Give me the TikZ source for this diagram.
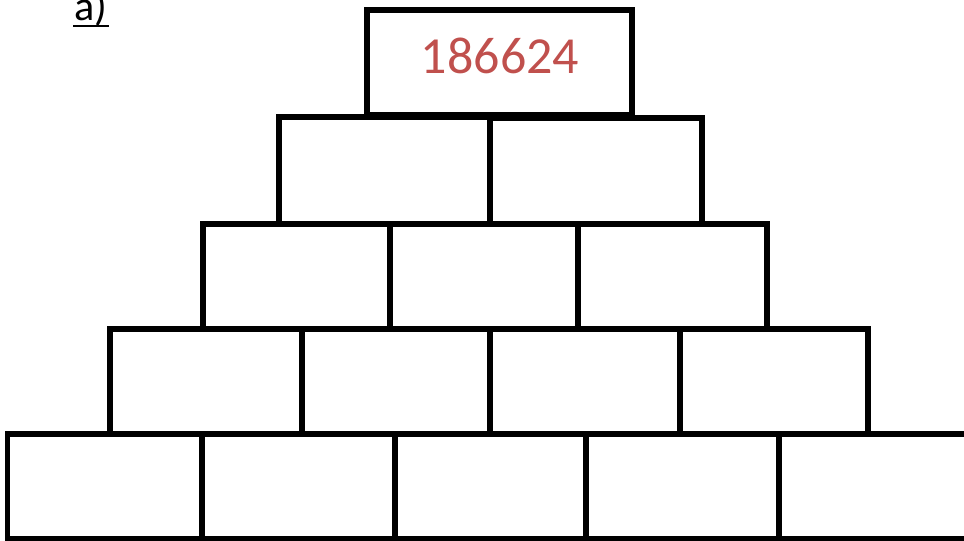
\documentclass[tikz,border=0pt]{standalone}
\usepackage{fontspec}
\setmainfont{Carlito}
\usepackage{tikz}
\usepackage{xcolor}
\definecolor{numred}{RGB}{192,80,77}
\tikzset{brick/.style={draw=black,line width=3.8pt,line join=miter}}

\begin{document}
\begin{tikzpicture}[line cap=rect]
\useasboundingbox (0,0) rectangle (24.1,13.5);
\begin{scope}
\clip (0,0) rectangle (24.1,13.5);
% bottom row
\draw[brick] (0.19,0.025) rectangle (5.05,2.65);
\draw[brick] (5.05,0.025) rectangle (9.875,2.65);
\draw[brick] (9.875,0.025) rectangle (14.65,2.65);
\draw[brick] (14.65,0.025) rectangle (19.475,2.65);
\draw[brick] (19.475,0.025) rectangle (25,2.65);
% fourth row
\draw[brick] (2.75,2.65) rectangle (7.55,5.275);
\draw[brick] (7.55,2.65) rectangle (12.25,5.275);
\draw[brick] (12.25,2.65) rectangle (17.0,5.275);
\draw[brick] (17.0,2.65) rectangle (21.7,5.275);
% third row
\draw[brick] (5.075,5.275) rectangle (9.75,7.9);
\draw[brick] (9.75,5.275) rectangle (14.45,7.9);
\draw[brick] (14.45,5.275) rectangle (19.175,7.9);
% second row
\draw[brick] (6.975,7.9) rectangle (12.25,10.575);
\draw[brick] (12.25,7.9) rectangle (17.55,10.55);
% top
\draw[brick] (9.175,10.625) rectangle (15.8,13.25);
\node[text=numred,font=\fontsize{37}{44}\selectfont,inner sep=0pt] (top) at (12.5,12.1) {186624};
\node[anchor=base west,font=\fontsize{30}{36}\selectfont,inner sep=0pt] (lbl) at (1.85,12.975) {a)};
\draw[line width=1.6pt] (lbl.base west) ++(0,-0.13) -- ++(0.85,0);
\end{scope}
\end{tikzpicture}
\end{document}
